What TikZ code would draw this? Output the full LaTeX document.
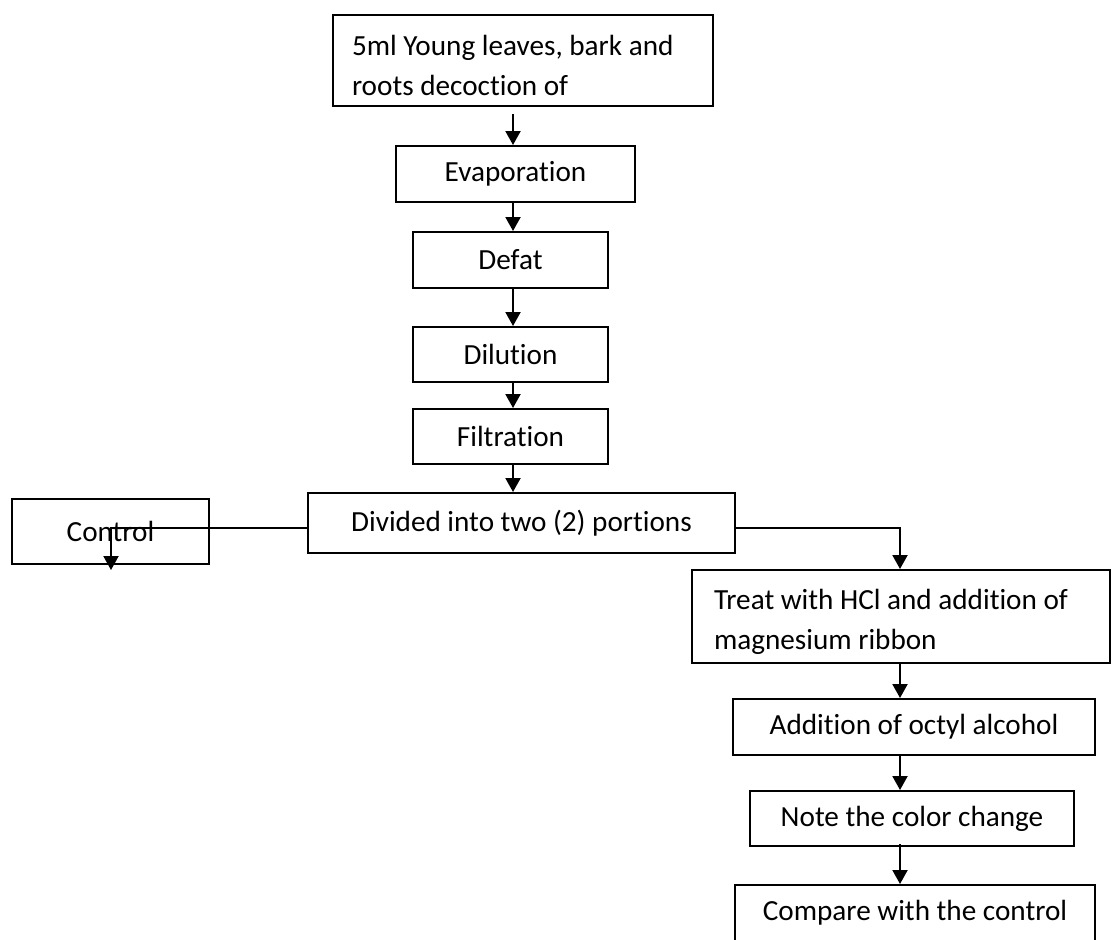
\documentclass[tikz,border=0pt]{standalone}
\usepackage{fontspec}
\setmainfont{Carlito}[Ligatures=NoCommon]
\usetikzlibrary{arrows.meta}

\begin{document}
\begin{tikzpicture}[font=\fontsize{14.6}{20}\selectfont,line cap=butt,line join=miter,x=0.5pt,y=-0.5pt,
  box/.style={draw,line width=1pt,inner sep=0pt},
  arr/.style={-{Triangle[length=7pt,width=7.5pt]},line width=1pt}]
\useasboundingbox (0,0) rectangle (1112,939);
% vertical axes of the two chains
\coordinate (topaxis) at (513,0);
\coordinate (lowaxis) at (900,0);
% main chain
\node[box,minimum width=190pt,minimum height=45.5pt,text width=171pt,inner xsep=9.5pt,align=flush left] (src) at (523,60.5) {\rule{0pt}{15pt}5ml Young leaves, bark and\\roots decoction of};
\node[box,minimum width=119.5pt,minimum height=28pt] (evap) at (515.5,174) {Evaporation};
\node[box,minimum width=97.5pt,minimum height=28pt] (defat) at (510.5,260) {Defat};
\node[box,minimum width=97.5pt,minimum height=27.5pt] (dil) at (510.5,354.5) {Dilution};
\node[box,minimum width=97.5pt,minimum height=27.5pt] (filt) at (510.5,436.5) {Filtration};
\node[box,minimum width=213.5pt,minimum height=30pt] (div) at (521.5,523) {Divided into two (2) portions};
\node[box,minimum width=98.5pt,minimum height=32.5pt] (ctrl) at (110.5,531.5) {Control};
% treated portion
\node[box,minimum width=209pt,minimum height=46.5pt,text width=187pt,inner xsep=11pt,align=flush left] (treat) at (901,616.5) {\rule{0pt}{15pt}Treat with HCl and addition of\\magnesium ribbon};
\node[box,minimum width=181pt,minimum height=28pt] (add) at (914,727) {Addition of octyl alcohol};
\node[box,minimum width=162pt,minimum height=27.5pt] (note) at (912,818.5) {Note the color change};
\node[box,minimum width=180pt,minimum height=28pt] (comp) at (915,913) {Compare with the control};
\coordinate (ctrltip) at (111,570);
% connectors
\draw[arr,shorten <=3.5pt] (src.south -| topaxis) -- (evap.north -| topaxis);
\draw[arr] (evap.south -| topaxis) -- (defat.north -| topaxis);
\draw[arr] (defat.south -| topaxis) -- (dil.north -| topaxis);
\draw[arr] (dil.south -| topaxis) -- (filt.north -| topaxis);
\draw[arr] (filt.south -| topaxis) -- (div.north -| topaxis);
\draw[arr] ([yshift=-2.5pt]div.west) -| (ctrltip);
\draw[arr] ([yshift=-2.5pt]div.east) -| (treat.north -| lowaxis);
\draw[arr] (treat.south -| lowaxis) -- (add.north -| lowaxis);
\draw[arr] (add.south -| lowaxis) -- (note.north -| lowaxis);
\draw[arr,shorten <=-1.5pt] (note.south -| lowaxis) -- (comp.north -| lowaxis);
\end{tikzpicture}
\end{document}
